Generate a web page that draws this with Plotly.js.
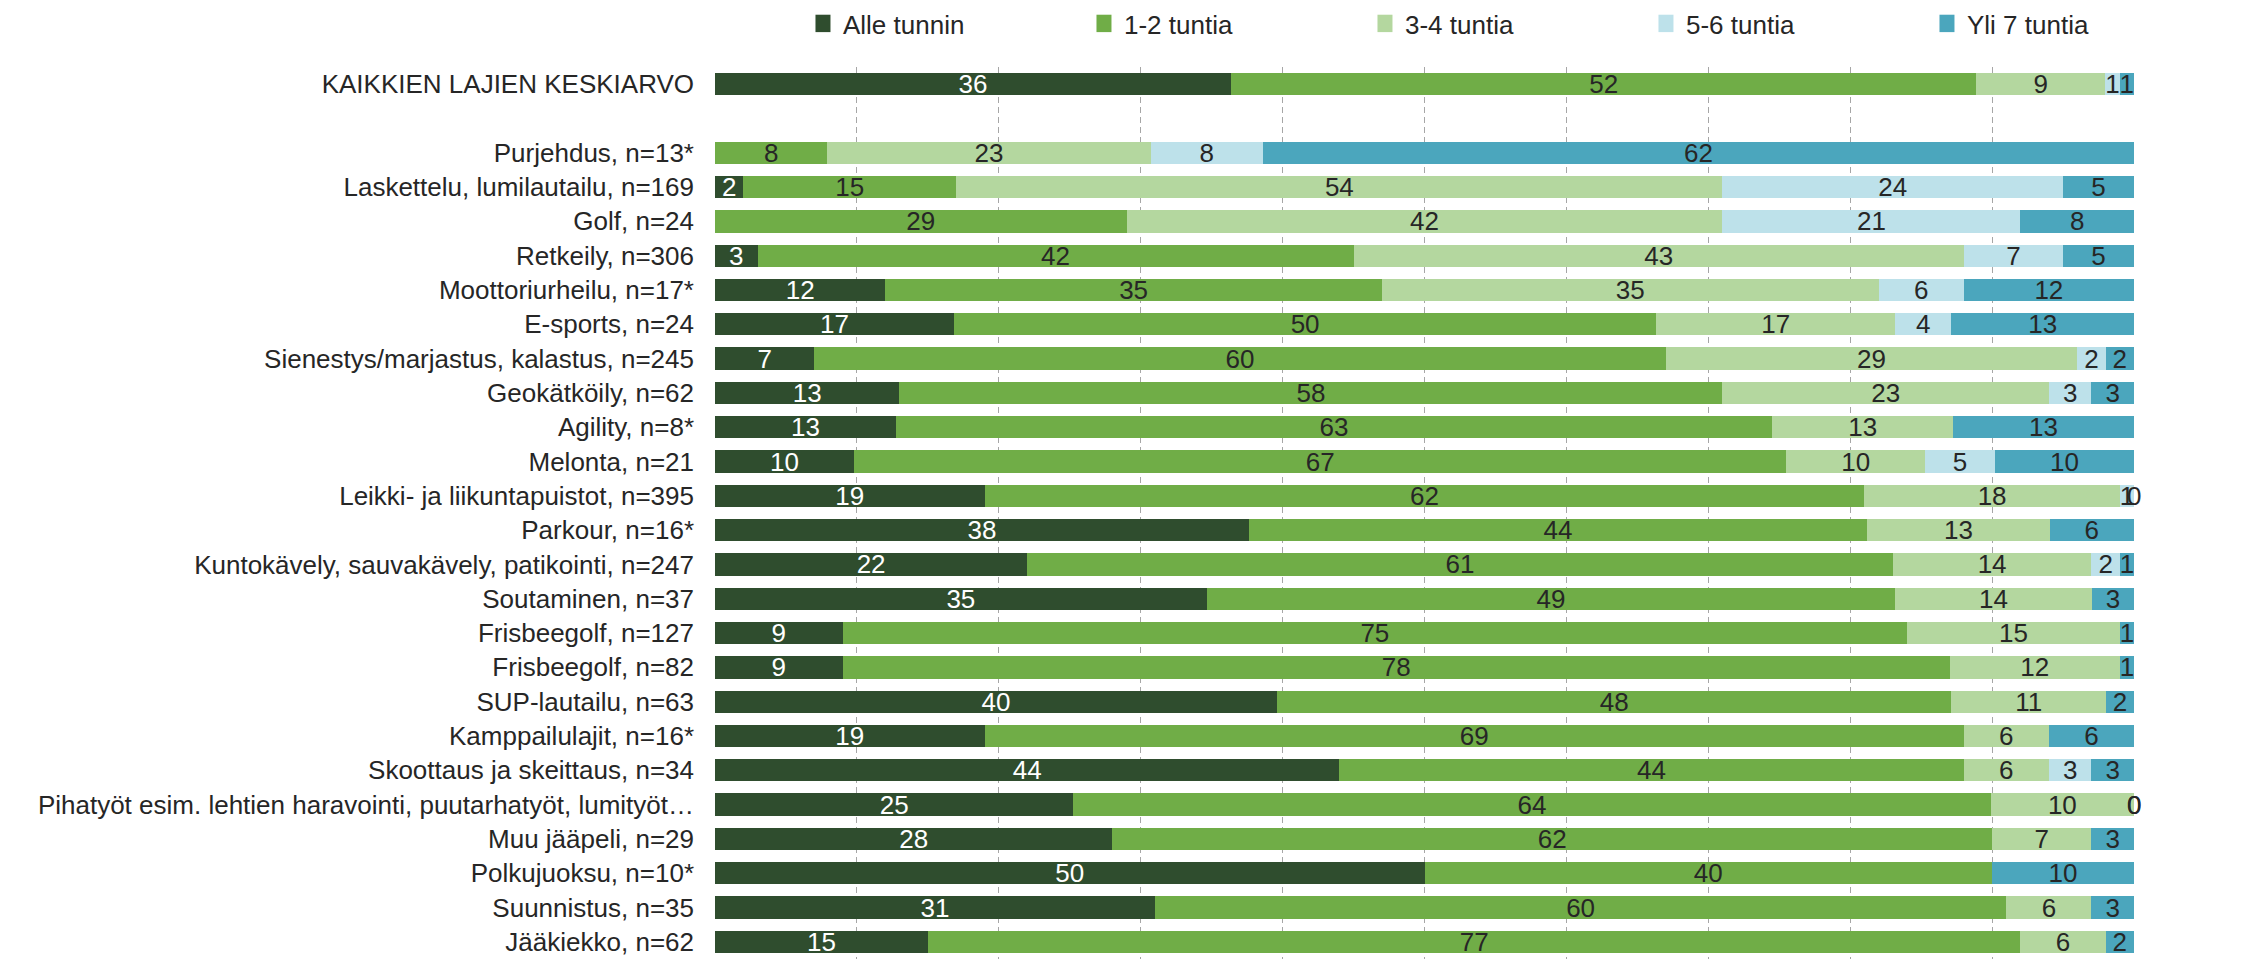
<!DOCTYPE html>
<html>
<head>
<meta charset="utf-8">
<script src="https://cdn.plot.ly/plotly-3.0.1.min.js"></script>
<style>
  html, body { margin: 0; padding: 0; background: #ffffff; }
  #chart { width: 2244px; height: 959px; }
</style>
</head>
<body>
<div id="chart"></div>
<script>
// Answer categories (stack order, left to right)
const seriesNames = ['Alle tunnin', '1-2 tuntia', '3-4 tuntia', '5-6 tuntia', 'Yli 7 tuntia'];

// Rows from top to bottom; the empty entry leaves a spacer row under the average
const categories = [
  'KAIKKIEN LAJIEN KESKIARVO',
  '',
  'Purjehdus, n=13*',
  'Laskettelu, lumilautailu, n=169',
  'Golf, n=24',
  'Retkeily, n=306',
  'Moottoriurheilu, n=17*',
  'E-sports, n=24',
  'Sienestys/marjastus, kalastus, n=245',
  'Geokätköily, n=62',
  'Agility, n=8*',
  'Melonta, n=21',
  'Leikki- ja liikuntapuistot, n=395',
  'Parkour, n=16*',
  'Kuntokävely, sauvakävely, patikointi, n=247',
  'Soutaminen, n=37',
  'Frisbeegolf, n=127',
  'Frisbeegolf, n=82',
  'SUP-lautailu, n=63',
  'Kamppailulajit, n=16*',
  'Skoottaus ja skeittaus, n=34',
  'Pihatyöt esim. lehtien haravointi, puutarhatyöt, lumityöt…',
  'Muu jääpeli, n=29',
  'Polkujuoksu, n=10*',
  'Suunnistus, n=35',
  'Jääkiekko, n=62'
];

// Shares (%) per row, one array per answer category
const alleTunnin = [36, null, null, 2, null, 3, 12, 17, 7, 13, 13, 10, 19, 38, 22, 35, 9, 9, 40, 19, 44, 25, 28, 50, 31, 15];
const tunnit1_2  = [52, null, 8, 15, 29, 42, 35, 50, 60, 58, 63, 67, 62, 44, 61, 49, 75, 78, 48, 69, 44, 64, 62, 40, 60, 77];
const tunnit3_4  = [9, null, 23, 54, 42, 43, 35, 17, 29, 23, 13, 10, 18, 13, 14, 14, 15, 12, 11, 6, 6, 10, 7, null, 6, 6];
const tunnit5_6  = [1, null, 8, 24, 21, 7, 6, 4, 2, 3, null, 5, 1, null, 2, null, null, null, null, null, 3, 0, null, null, null, null];
const yli7       = [1, null, 62, 5, 8, 5, 12, 13, 2, 3, 13, 10, 0, 6, 1, 3, 1, 1, 2, 6, 3, 0, 3, 10, 3, 2];

const seriesValues = [alleTunnin, tunnit1_2, tunnit3_4, tunnit5_6, yli7];
const seriesColors = ['#2F4D2E', '#70AD47', '#B4D79F', '#BDE1EA', '#4BA6BD'];
const labelColors  = ['#FFFFFF', '#262626', '#262626', '#262626', '#262626'];

const FONT = 'Liberation Sans, Arial, sans-serif';
const rowPos = categories.map((_, i) => i);

// Zero shares have no visible segment; they are left out of the bar traces
// and get their "0" label as an annotation instead.
const traces = seriesNames.map((name, s) => {
  const vals = seriesValues[s].map(v => (v === 0 ? null : v));
  return {
    type: 'bar',
    orientation: 'h',
    name: name,
    y: rowPos,
    x: vals,
    text: vals.map(v => (v === null ? '' : String(v))),
    texttemplate: '%{text}',
    textposition: 'inside',
    insidetextanchor: 'middle',
    textangle: 0,
    constraintext: 'none',
    cliponaxis: false,
    textfont: { family: FONT, size: 26, color: labelColors[s] },
    marker: { color: seriesColors[s], line: { width: 0 } },
    hoverinfo: 'skip'
  };
});

const annotations = [];
rowPos.forEach((r) => {
  const total = seriesValues.reduce((acc, arr) => acc + (arr[r] || 0), 0);
  if (!total) return;
  let cum = 0;
  seriesValues.forEach((arr, s) => {
    const v = arr[r];
    if (v === null) return;
    cum += v;
    if (v === 0) {
      annotations.push({
        x: 100 * cum / total, y: r, xref: 'x', yref: 'y',
        text: '0', showarrow: false, xanchor: 'center', yanchor: 'middle',
        font: { family: FONT, size: 26, color: labelColors[s] }
      });
    }
  });
});

const layout = {
  width: 2244,
  height: 959,
  paper_bgcolor: '#ffffff',
  plot_bgcolor: '#ffffff',
  font: { family: FONT, size: 26, color: '#262626' },
  barmode: 'stack',
  barnorm: 'percent',
  bargap: 0.35,
  margin: { l: 715, r: 110, t: 67, b: 0, pad: 0 },
  xaxis: {
    // a hair above 100 so normalised stack tops (100.000…01) stay in range
    range: [0, 100.0001],
    tick0: 0,
    dtick: 10,
    showticklabels: false,
    ticks: '',
    showgrid: true,
    gridcolor: '#A6A6A6',
    gridwidth: 1,
    griddash: '6px,4px',
    zeroline: false,
    showline: false,
    fixedrange: true
  },
  yaxis: {
    range: [25.5, -0.5],
    tickvals: rowPos,
    ticktext: categories,
    showgrid: false,
    zeroline: false,
    showline: false,
    ticks: '',
    ticklabelstandoff: 20,
    tickfont: { family: FONT, size: 26, color: '#262626' },
    fixedrange: true
  },
  showlegend: true,
  legend: {
    orientation: 'h',
    x: 0.062,
    xanchor: 'left',
    y: 1.0751,
    yanchor: 'top',
    entrywidth: 236,
    entrywidthmode: 'pixels',
    traceorder: 'normal',
    font: { family: FONT, size: 26, color: '#262626' },
    bgcolor: 'rgba(0,0,0,0)'
  },
  annotations: annotations
};

Plotly.newPlot('chart', traces, layout, { displayModeBar: false, staticPlot: true })
  .then(() => {
    // Somewhat larger legend swatches (keep Plotly's own placement transform)
    document.querySelectorAll('#chart .legend .legendpoints path').forEach(p => {
      const t = p.getAttribute('transform') || '';
      p.setAttribute('transform', (t + ' scale(1.25,1.45)').trim());
    });
  });
</script>
</body>
</html>
